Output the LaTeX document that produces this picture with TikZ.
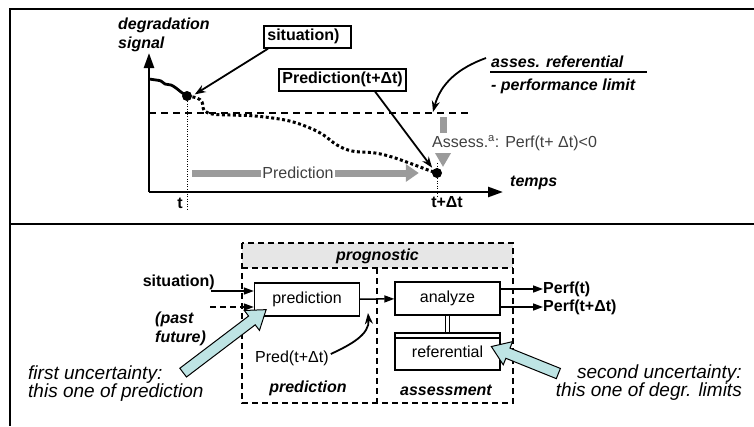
\documentclass[tikz,border=0pt]{standalone}
\usepackage{fontspec}
\setmainfont{Liberation Sans}
\usetikzlibrary{arrows.meta,calc,shapes.arrows}
\definecolor{uncblue}{RGB}{190,228,228}
\definecolor{bandgray}{RGB}{230,230,230}
\definecolor{bargray}{RGB}{155,155,155}
\newcommand\txt{\fontsize{16}{19}\selectfont}
\newcommand\bigtxt{\fontsize{19}{18}\selectfont}
\tikzset{
  frame/.style={line width=2pt},
  callout/.style={draw,line width=1.8pt,inner sep=3.5pt,font=\txt\bfseries},
  blk/.style={draw,line width=1.3pt,minimum width=105pt,minimum height=33pt,font=\txt},
  dashbox/.style={line width=1.4pt,dash pattern=on 6pt off 4pt},
  axis/.style={line width=2.5pt,-{Triangle[length=15pt,width=10pt]}},
  graybar/.style={bargray,line width=7pt,-{Triangle[length=13pt,width=17pt]}},
  arr/.style={line width=1.5pt,-{Triangle[length=10pt,width=7pt]}},
  callarr/.style={line width=1.8pt,-{Stealth[length=11pt,width=8pt]}},
  fatarrow/.style={single arrow,draw,line width=1pt,fill=uncblue,inner sep=5pt,
    single arrow head extend=7pt,single arrow tip angle=70,single arrow head indent=0pt},
  dot/.style={circle,fill,inner sep=0pt,minimum size=10pt},
  lbl/.style={inner sep=0pt,font=\txt},
}
\begin{document}
\begin{tikzpicture}[x=1pt,y=-1pt]
\useasboundingbox (0,0) rectangle (754,426);
% frame
\draw[frame] (754,9) -- (10,9) -- (10,426);
\draw[frame] (10,223.5) -- (754,223.5);

% ---- upper part: degradation signal
\coordinate (O) at (149,192);
\draw[axis] (O) -- (149,53);
\draw[axis] (O) -- (503,192);
\node[lbl,anchor=west,align=left,font=\txt\bfseries\itshape] (ylab) at (118,34.5) {degradation\\signal};
\node[lbl,anchor=west,font=\txt\bfseries\itshape] (xlab) at (510,183) {temps};

\draw[line width=1.5pt,dash pattern=on 7pt off 5pt] (149,113) -- (470,113);

\node[dot] (dot1) at (187,96) {};
\node[dot] (dot2) at (437,173) {};
\draw[line width=2.8pt] plot[smooth] coordinates {(149,79) (156,80) (161,81) (165,84) (171,85) (176,88) (181,92) (187,96)};
\draw[line width=3pt,dash pattern=on 3pt off 2.5pt] plot[smooth,tension=.6] coordinates {(187,96) (197,98) (202,102) (204,110) (212,114) (230,115) (255,116) (285,120) (305,126) (322,134) (337,145) (352,151) (375,153) (392,157) (412,164) (428,170) (437,173)};

\draw[line width=1pt,dash pattern=on 1pt off 1.5pt] (dot1) -- (187,210);
\draw[line width=1pt,dash pattern=on 1pt off 1.5pt] (437,163) -- (437,198);
\node[lbl,font=\txt\bfseries] (tlab) at (180,203) {t};
\node[lbl,font=\txt\bfseries] (tdlab) at (447,202) {t+Δt};

\node[callout,anchor=north west,text width=80pt] (sitbox) at (263,25) {situation)};
\node[callout,anchor=north west] (predbox) at (278,68) {Prediction(t+Δt)};
\draw[callarr,shorten >=3pt] ([xshift=5pt]sitbox.south west) -- (dot1.east);
\draw[callarr,shorten >=2pt] ([xshift=-32pt]predbox.south east) -- (dot2.north west);

\node[lbl,anchor=west,font=\txt\bfseries\itshape] (asses) at (491,62) {asses. referential};
\node[lbl,anchor=west,font=\txt\bfseries\itshape] (plimit) at (491,86) {- performance limit};
\draw[line width=1.5pt] (490,72) -- (647,72);
\coordinate (limpt) at (433,112);
\draw[callarr] ([xshift=-5pt,yshift=4pt]asses.west) to[out=200,in=75] (limpt);

\coordinate (predstart) at (192,173);
\draw[graybar,shorten >=13pt] (predstart) -- (dot2);
\node[lbl,fill=white,inner sep=1pt,text=black!75] (predlab) at (298,173) {Prediction};
\coordinate (gtop) at (443,117);
\coordinate (gbot) at (443,167);
\draw[graybar,-{Triangle[length=14pt,width=15pt]}] (gtop) -- (gbot);
\node[lbl,anchor=west,fill=white,inner xsep=0pt,inner ysep=2pt,text=black!75] (assess) at (432,143) {Assess.\textsuperscript{a}: Perf(t+ Δt)<0};

% ---- lower part: prognostic
\fill[bandgray] (242,243) rectangle (513,268);
\draw[dashbox] (242,243) rectangle (513,403);
\draw[dashbox] (242,268) -- (513,268);
\draw[dashbox] (377,268) -- (377,403);
\node[lbl,font=\txt\bfseries\itshape] (prog) at (377.5,256) {prognostic};

\node[blk] (pbox) at (307,299.5) {prediction};
\node[blk] (abox) at (447.5,298.5) {analyze};
\node[blk,minimum height=37pt] (rbox) at (447.5,351.5) {\raisebox{-2pt}{referential}};
\draw[line width=1.3pt] ([yshift=-5.5pt]rbox.north west) -- ([yshift=-5.5pt]rbox.north east);
\draw[line width=1pt,double,double distance=2.5pt] (abox.south) -- (rbox.north);

\node[lbl,font=\txt\bfseries\itshape] (predname) at (308,388) {prediction};
\node[lbl,font=\txt\bfseries\itshape] (assname) at (446,390) {assessment};

\draw[arr] (pbox) -- (abox);
\node[lbl,anchor=west,font=\txt\bfseries] (perf1) at (543,289) {Perf(t)};
\node[lbl,anchor=west,font=\txt\bfseries] (perf2) at (543,307) {Perf(t+Δt)};
\draw[arr] (abox.east |- perf1) -- (perf1.west);
\draw[arr] (abox.east |- perf2) -- (perf2.west);

\node[lbl,anchor=east,font=\txt\bfseries] (sitin) at (215,282) {situation)};
\node[lbl,anchor=west,align=left,font=\txt\bfseries\itshape] (past) at (155,329) {(past\\future)};
\coordinate (in1) at (211,291);
\coordinate (in2) at (210,307);
\draw[arr] (in1) -- (in1 -| pbox.west);
\draw[arr,dash pattern=on 6pt off 4pt] (in2) -- (in2 -| pbox.west);

\node[lbl,anchor=west] (predt) at (255,358) {Pred(t+Δt)};
\coordinate (predout) at (368,313);
\draw[callarr] ([xshift=2pt,yshift=4pt]predt.east) to[out=25,in=-85] (predout);

\node[lbl,anchor=west,align=left,font=\bigtxt\itshape] (unc1) at (28,384) {first uncertainty:\\this one of prediction};
\node[lbl,anchor=east,align=right,font=\bigtxt\itshape] (unc2) at (742,383) {second uncertainty:\\this one of degr. limits};
\coordinate (u1tail) at (180,375);
\coordinate (u1tip) at (263,312);
\coordinate (u2tail) at (562,375);
\coordinate (u2tip) at (495,348);
\path let \p1=($(u1tip)-(u1tail)$), \n1={veclen(\x1,\y1)} in
  (u1tail) -- (u1tip) node[fatarrow,midway,sloped,allow upside down,minimum height=\n1] (u1) {};
\path let \p1=($(u2tip)-(u2tail)$), \n1={veclen(\x1,\y1)} in
  (u2tail) -- (u2tip) node[fatarrow,midway,sloped,allow upside down,minimum height=\n1] (u2) {};
\end{tikzpicture}
\end{document}
